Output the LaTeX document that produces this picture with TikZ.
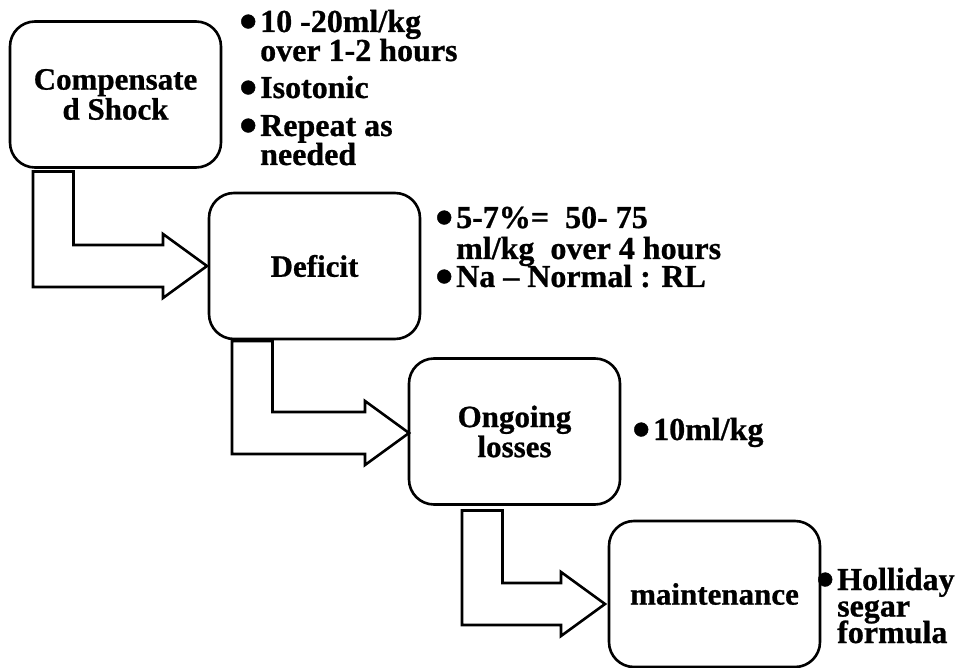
\documentclass[tikz,border=0pt]{standalone}
\usepackage{fontspec}
\usepackage{graphicx}
\setmainfont[BoldFeatures={FakeBold=0.8}]{Liberation Serif}
\usetikzlibrary{calc}

% Hollow bent arrow from the bottom of #1 to the left side of #2.
% #3 = x offset of the shaft from #1's left side, #4 = gap below #1,
% #5 = shift of the tip from #2.west
\newcommand\bentarrow[5]{%
  \draw[bent] let \p1=(#1.south west), \p2=($(#2.west)+(#5)$) in
    (\x1+#3pt, \y1-#4pt) -- (\x1+#3pt+40.5pt, \y1-#4pt)
    -- (\x1+#3pt+40.5pt, \y2+21pt) -- (\x2-44pt, \y2+21pt)
    -- (\x2-44pt, \y2+32pt) -- (\x2, \y2) -- (\x2-44pt, \y2-32pt)
    -- (\x2-44pt, \y2-21pt) -- (\x1+#3pt, \y2-21pt) -- cycle;}

% a block of lines with a fixed line pitch; its baseline is that of the first line
\newcommand\noteblock[2]{\vtop{\baselineskip=#1\lineskiplimit=-100pt\lineskip=0pt #2}}
\newcommand\noteline[1]{\hbox{#1}}
\newcommand\notebullet{\llap{\raisebox{-6.5pt}{\scalebox{1.6}{•}}\hspace{3pt}}}

\begin{document}
\begin{tikzpicture}[x=1pt, y=-1pt,
  stage/.style={draw=black, line width=2.6pt, rounded corners=25pt, fill=white,
    minimum width=211pt, minimum height=146pt, outer sep=0pt, inner sep=0pt,
    align=center, font=\fontsize{31}{30}\selectfont\bfseries},
  bent/.style={draw=black, line width=2.6pt, fill=white, line join=miter},
  note/.style={anchor=base west, inner sep=0pt, font=\fontsize{32}{32}\selectfont\bfseries},
]
\useasboundingbox (0,0) rectangle (958,668);

% stages
\node[stage] (shock) at (115.5,94.5) {Compensate\\d Shock};
\node[stage] (deficit) at (314.5,266) {Deficit};
\node[stage] (losses) at (514.5,431.5) {Ongoing\\losses};
\node[stage] (maint) at (714.5,594) {maintenance};

% connectors
\bentarrow{shock}{deficit}{23}{4}{-2,0}
\bentarrow{deficit}{losses}{23}{2}{0,1.5}
\bentarrow{losses}{maint}{53}{6}{-4,10}

% notes beside each stage
\node[note] (shocknote) at (260,32) {\noteblock{29pt}{%
  \noteline{\notebullet 10 -20ml/kg}\noteline{over 1-2 hours}\vskip8pt
  \noteline{\notebullet Isotonic}\vskip9pt
  \noteline{\notebullet Repeat as}\noteline{needed}}};

\node[note] (deficitnote) at (456,228) {\noteblock{29pt}{%
  \noteline{\notebullet 5-7\%=\ \ 50- 75}\vskip2pt
  \noteline{ml/kg\ \ over 4 hours}\vskip-1pt
  \noteline{\notebullet Na – Normal : RL}}};

\node[note] (lossesnote) at (653,440) {\notebullet 10ml/kg};

\node[note] (maintnote) at (837,590) {\noteblock{26.5pt}{%
  \noteline{\notebullet Holliday}\noteline{segar}\noteline{formula}}};
\end{tikzpicture}
\end{document}
